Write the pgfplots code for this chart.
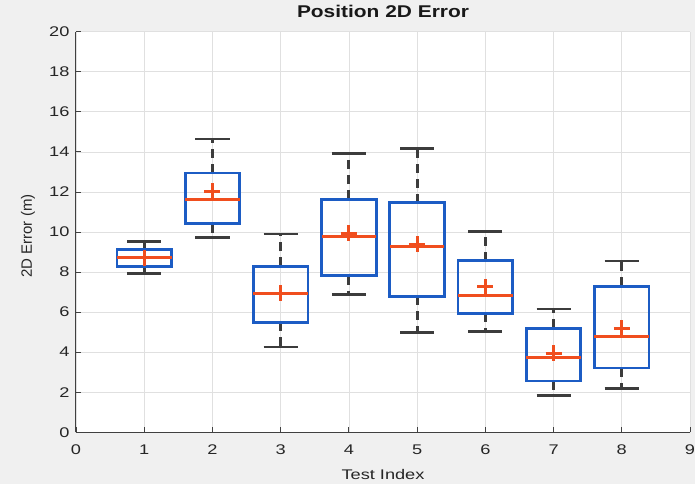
\documentclass[border=0pt]{standalone}
\usepackage{fontspec}
\setmainfont{Liberation Sans}
\newfontfamily\widefont{Liberation Sans}[FakeStretch=1.3]
\newfontfamily\titlefont{Liberation Sans}[FakeStretch=1.23]
\usepackage{pgfplots}
\pgfplotsset{compat=1.18}
\usepgfplotslibrary{statistics}
\definecolor{figbg}{RGB}{240,240,240}
\definecolor{boxblue}{RGB}{28,92,196}
\definecolor{medred}{RGB}{240,78,30}
\definecolor{whisk}{RGB}{60,60,60}
\definecolor{axcol}{RGB}{64,64,64}
\definecolor{gridcol}{RGB}{224,224,224}
\definecolor{txtcol}{RGB}{38,38,38}
\begin{document}
\begin{tikzpicture}
\fill[figbg] (-76pt,-51.7pt) rectangle (619pt,432.3pt);
\begin{axis}[
  at={(0pt,0pt)}, anchor=south west,
  scale only axis, width=614pt, height=400.6pt,
  xmin=0, xmax=9, ymin=0, ymax=20,
  xtick={0,1,...,9}, ytick={0,2,...,20},
  axis lines=left, axis line style={-, axcol, line width=1pt},
  tick align=inside, major tick length=5pt, tick style={axcol, line width=0.8pt},
  grid=major, major grid style={gridcol, line width=0.7pt},
  axis background/.style={fill=white},
  /pgf/number format/assume math mode=true,
  tick label style={font=\widefont\fontsize{14}{16}\selectfont, text=txtcol},
  yticklabel style={xshift=-3pt},
  xticklabel style={yshift=-9pt},
  xlabel={Test Index},
  xlabel style={font=\widefont\fontsize{14}{16}\selectfont, text=txtcol, at={(axis description cs:0.5,0)}, anchor=base, yshift=-46.7pt},
  ylabel={2D Error (m)},
  ylabel style={font=\fontsize{15}{17}\selectfont, text=txtcol, at={(axis description cs:-0.0782,0.49)}, anchor=center},
  title={Position 2D Error},
  title style={font=\titlefont\bfseries\fontsize{17}{19}\selectfont, text=black!90, at={(axis description cs:0.5,1)}, anchor=base, yshift=8.2pt},
  boxplot/draw direction=y,
  boxplot/box extend=0.8,
  boxplot/whisker extend=0.5,
  boxplot/every box/.style={draw=boxblue, line width=2.8pt},
  boxplot/every median/.style={draw=medred, line width=2.8pt},
  boxplot/every average/.style={/tikz/mark=+, /tikz/mark size=8pt, /tikz/mark options={draw=medred, line width=2.8pt, solid}, draw=medred, line width=2.8pt, solid},
  boxplot/draw/lower whisker/.code={%
    \draw[whisk, line width=2.8pt, dash pattern=on 9pt off 6pt]
      (boxplot box cs:\pgfplotsboxplotvalue{lower quartile},0.5) --
      (boxplot box cs:\pgfplotsboxplotvalue{lower whisker},0.5);
    \draw[whisk, line width=2.8pt, solid]
      (boxplot whisker cs:\pgfplotsboxplotvalue{lower whisker},0) --
      (boxplot whisker cs:\pgfplotsboxplotvalue{lower whisker},1);
  },
  boxplot/draw/upper whisker/.code={%
    \draw[whisk, line width=2.8pt, dash pattern=on 9pt off 6pt]
      (boxplot box cs:\pgfplotsboxplotvalue{upper quartile},0.5) --
      (boxplot box cs:\pgfplotsboxplotvalue{upper whisker},0.5);
    \draw[whisk, line width=2.8pt, solid]
      (boxplot whisker cs:\pgfplotsboxplotvalue{upper whisker},0) --
      (boxplot whisker cs:\pgfplotsboxplotvalue{upper whisker},1);
  },
  every axis plot/.append style={medred, line width=2.8pt, mark options={line width=2.8pt, draw=medred}},
]
\addplot[medred, line width=2.8pt, boxplot prepared={draw position=1, lower whisker=7.92, lower quartile=8.29, median=8.72, upper quartile=9.12, upper whisker=9.53, average=8.70}] coordinates {};
\addplot[medred, line width=2.8pt, boxplot prepared={draw position=2, lower whisker=9.72, lower quartile=10.41, median=11.61, upper quartile=12.95, upper whisker=14.64, average=12.04}] coordinates {};
\addplot[medred, line width=2.8pt, boxplot prepared={draw position=3, lower whisker=4.26, lower quartile=5.49, median=6.93, upper quartile=8.29, upper whisker=9.90, average=6.95}] coordinates {};
\addplot[medred, line width=2.8pt, boxplot prepared={draw position=4, lower whisker=6.88, lower quartile=7.82, median=9.78, upper quartile=11.64, upper whisker=13.91, average=9.94}] coordinates {};
\addplot[medred, line width=2.8pt, boxplot prepared={draw position=5, lower whisker=4.97, lower quartile=6.79, median=9.28, upper quartile=11.46, upper whisker=14.18, average=9.38}] coordinates {};
\addplot[medred, line width=2.8pt, boxplot prepared={draw position=6, lower whisker=5.05, lower quartile=5.95, median=6.81, upper quartile=8.57, upper whisker=10.03, average=7.26}] coordinates {};
\addplot[medred, line width=2.8pt, boxplot prepared={draw position=7, lower whisker=1.85, lower quartile=2.56, median=3.72, upper quartile=5.20, upper whisker=6.16, average=3.94}] coordinates {};
\addplot[medred, line width=2.8pt, boxplot prepared={draw position=8, lower whisker=2.18, lower quartile=3.21, median=4.80, upper quartile=7.29, upper whisker=8.55, average=5.20}] coordinates {};
\end{axis}
\pgfresetboundingbox
\path (-76pt,-51.7pt) rectangle (619pt,432.3pt);
\end{tikzpicture}
\end{document}
